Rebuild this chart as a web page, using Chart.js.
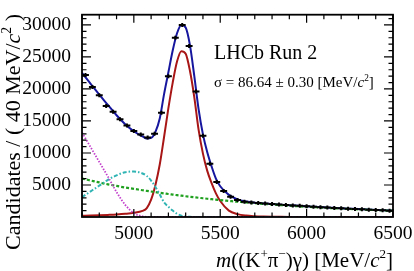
<!DOCTYPE html>
<html>
<head>
<meta charset="utf-8">
<script src="https://cdn.jsdelivr.net/npm/chart.js@4.4.1/dist/chart.umd.min.js"></script>
<style>
  html, body { margin: 0; padding: 0; background: #ffffff; }
  #chart { display: block; }
</style>
</head>
<body>
<canvas id="chart" width="414" height="271"></canvas>
<script>
"use strict";

// ** Data

// bin centres, 40 MeV bins
const binCenters = [4720, 4760, 4800, 4840, 4880, 4920, 4960, 5000, 5040, 5080,
  5120, 5160, 5200, 5240, 5280, 5320, 5360, 5400, 5440, 5480,
  5520, 5560, 5600, 5640, 5680, 5720, 5760, 5800, 5840, 5880,
  5920, 5960, 6000, 6040, 6080, 6120, 6160, 6200, 6240, 6280,
  6320, 6360, 6400, 6440, 6480];
const candidates = [22200, 20300, 19000, 17350, 16450, 15250, 14300, 13450, 12900, 12400,
  13000, 16300, 22000, 28000, 30000, 26700, 19600, 12700, 8300, 5450,
  4050, 3150, 2650, 2400, 2280, 2190, 2100, 2020, 1950, 1870,
  1810, 1740, 1660, 1600, 1540, 1470, 1420, 1360, 1300, 1250,
  1200, 1150, 1090, 1040, 990];

// sample positions for the fit curves
const curveX = [4700, 4750, 4800, 4850, 4900, 4950, 5000, 5050,
  5075, 5100, 5125, 5150, 5175, 5200, 5225, 5250, 5275, 5300, 5325, 5350,
  5375, 5400, 5425, 5450, 5475, 5500,
  5550, 5600, 5650, 5700, 5750, 5800, 5850, 5900, 5950, 6000,
  6050, 6100, 6150, 6200, 6250, 6300, 6350, 6400, 6450, 6500];
const totalFit = [22500, 20800, 19100, 17500, 15900, 14500, 13400, 12600,
  12250, 12350, 13300, 15400, 19200, 22600, 26000, 28700, 30000, 29600, 26800, 22000,
  16800, 12900, 10100, 7900, 6000, 4800,
  3450, 2750, 2420, 2230, 2120, 2020, 1930, 1850, 1760, 1670,
  1590, 1510, 1440, 1370, 1300, 1240, 1170, 1110, 1050, 1000];
const signalFit = [200, 230, 270, 330, 400, 500, 650, 950,
  1400, 2700, 5000, 8200, 12500, 17000, 21000, 24300, 25900, 25500, 22800, 18700,
  13600, 9900, 7200, 5300, 3700, 2500,
  1000, 450, 220, 120, 70, 40, 25, 15, 10, 5,
  0, 0, 0, 0, 0, 0, 0, 0, 0, 0];
const combBkg = [6000, 5700, 5400, 5100, 4850, 4600, 4400, 4180,
  4080, 3980, 3880, 3780, 3690, 3590, 3500, 3410, 3330, 3240, 3160, 3080,
  3000, 2930, 2850, 2780, 2710, 2640,
  2510, 2380, 2270, 2160, 2050, 1950, 1860, 1770, 1680, 1600,
  1520, 1450, 1380, 1310, 1250, 1190, 1130, 1080, 1020, 975];
const peakingBkg = [3100, 4000, 4900, 5800, 6500, 7000, 7100, 6800,
  6400, 5700, 4700, 3500, 2300, 1600, 1000, 500, 200, 80, 20, 0,
  0, 0, 0, 0, 0, 0,
  0, 0, 0, 0, 0, 0, 0, 0, 0, 0,
  0, 0, 0, 0, 0, 0, 0, 0, 0, 0];
const partRecoBkg = [13200, 10900, 8600, 6300, 3900, 1900, 600, 100,
  20, 0, 0, 0, 0, 0, 0, 0, 0, 0, 0, 0,
  0, 0, 0, 0, 0, 0,
  0, 0, 0, 0, 0, 0, 0, 0, 0, 0,
  0, 0, 0, 0, 0, 0, 0, 0, 0, 0];

const xTickVals = [5000, 5500, 6000, 6500];
const yTickVals = [5000, 10000, 15000, 20000, 25000, 30000];

const SERIF = "'Liberation Serif', 'DejaVu Serif', serif";

// ** Helpers

function toPoints(xs, ys) {
  return xs.map((x, i) => ({ x: x, y: ys[i] }));
}

function curve(label, ys, color, width, dash) {
  return {
    type: "line",
    label: label,
    data: toPoints(curveX, ys),
    borderColor: color,
    borderWidth: width,
    borderDash: dash,
    pointRadius: 0,
    fill: false,
    cubicInterpolationMode: "monotone",
  };
}

// draw a list of text pieces (normal / italic / superscript) in one line
function drawPieces(ctx, pieces, size, x, y, align) {
  const fontOf = (p) => {
    const s = p.sup ? size * 0.62 : size;
    return `${p.italic ? "italic " : ""}${s}px ${SERIF}`;
  };
  let total = 0;
  pieces.forEach((p) => {
    ctx.font = fontOf(p);
    total += ctx.measureText(p.t).width;
  });
  let cx = align === "right" ? x - total : x;
  ctx.textAlign = "left";
  ctx.textBaseline = "alphabetic";
  pieces.forEach((p) => {
    ctx.font = fontOf(p);
    ctx.fillText(p.t, cx, p.sup ? y - size * 0.42 : y);
    cx += ctx.measureText(p.t).width;
  });
}

// ** Plugins

const errorBars = {
  id: "errorBars",
  afterDatasetsDraw(chart) {
    const { ctx, scales } = chart;
    const xs = scales.x;
    const ys = scales.y;
    ctx.save();
    ctx.strokeStyle = "#000000";
    ctx.lineWidth = 2;
    binCenters.forEach((c, i) => {
      const v = candidates[i];
      const px = xs.getPixelForValue(c);
      const py = ys.getPixelForValue(v);
      const x0 = xs.getPixelForValue(c - 20);
      const x1 = xs.getPixelForValue(c + 20);
      const e = Math.max(Math.abs(ys.getPixelForValue(v + Math.sqrt(v)) - py), 2);
      ctx.beginPath();
      ctx.moveTo(x0, py);
      ctx.lineTo(x1, py);
      ctx.moveTo(px, py - e);
      ctx.lineTo(px, py + e);
      ctx.stroke();
    });
    ctx.restore();
  },
};

const frameAndText = {
  id: "frameAndText",
  afterDraw(chart) {
    const { ctx, chartArea: a, scales } = chart;
    ctx.save();
    ctx.strokeStyle = "#000000";
    ctx.lineWidth = 1.8;
    ctx.strokeRect(a.left, a.top, a.right - a.left, a.bottom - a.top);

    // ticks on all four sides, pointing inwards
    ctx.lineWidth = 1.2;
    ctx.beginPath();
    for (let v = 4700; v <= 6500; v += 100) {
      const px = scales.x.getPixelForValue(v);
      const len = v % 500 === 0 ? 8 : 4.5;
      ctx.moveTo(px, a.bottom);
      ctx.lineTo(px, a.bottom - len);
      ctx.moveTo(px, a.top);
      ctx.lineTo(px, a.top + len);
    }
    for (let v = 1000; v <= 31000; v += 1000) {
      const py = scales.y.getPixelForValue(v);
      const len = v % 5000 === 0 ? 9 : 4.5;
      ctx.moveTo(a.left, py);
      ctx.lineTo(a.left + len, py);
      ctx.moveTo(a.right, py);
      ctx.lineTo(a.right - len, py);
    }
    ctx.stroke();

    ctx.fillStyle = "#000000";
    // x title
    drawPieces(ctx, [
      { t: "m", italic: true },
      { t: "((K" },
      { t: "+", sup: true },
      { t: "\u03c0" },
      { t: "\u2212", sup: true },
      { t: ")\u03b3) [MeV/" },
      { t: "c", italic: true },
      { t: "2", sup: true },
      { t: "]" },
    ], 21, a.right, 267, "right");

    // y title, rotated, aligned to the top of the axis
    ctx.save();
    ctx.translate(20, 14);
    ctx.rotate(-Math.PI / 2);
    drawPieces(ctx, [
      { t: "Candidates / ( 40 MeV/" },
      { t: "c", italic: true },
      { t: "2", sup: true },
      { t: " )" },
    ], 22, 0, 0, "right");
    ctx.restore();

    // labels inside the frame
    drawPieces(ctx, [{ t: "LHCb Run 2" }], 20, 214, 59, "left");
    drawPieces(ctx, [
      { t: "\u03c3 = 86.64 \u00b1 0.30 [MeV/" },
      { t: "c", italic: true },
      { t: "2", sup: true },
      { t: "]" },
    ], 15, 214, 87, "left");
    ctx.restore();
  },
};

// ** Chart

const config = {
  type: "line",
  data: {
    datasets: [
      curve("part. reco.", partRecoBkg, "#c23fcc", 1.8, [1.5, 1.5]),
      curve("peaking bkg", peakingBkg, "#2fb3b3", 2, [4, 2, 1.5, 2]),
      curve("combinatorial", combBkg, "#1fa01f", 2.2, [3, 2]),
      curve("signal", signalFit, "#a81616", 2, []),
      curve("total", totalFit, "#16169e", 2, []),
    ],
  },
  options: {
    responsive: false,
    animation: false,
    devicePixelRatio: 1,
    layout: { padding: { top: 14, right: 21, left: 0, bottom: 0 } },
    plugins: {
      legend: { display: false },
      tooltip: { enabled: false },
    },
    scales: {
      x: {
        type: "linear",
        min: 4700,
        max: 6500,
        grid: { display: false },
        border: { display: false },
        afterBuildTicks: (axis) => {
          axis.ticks = xTickVals.map((v) => ({ value: v }));
        },
        afterFit: (axis) => {
          axis.height = 54;
        },
        ticks: {
          color: "#000000",
          font: { family: SERIF, size: 19.5 },
          padding: -3,
          maxRotation: 0,
          callback: (v) => String(v),
        },
      },
      y: {
        type: "linear",
        min: 0,
        max: 31600,
        grid: { display: false },
        border: { display: false },
        afterBuildTicks: (axis) => {
          axis.ticks = yTickVals.map((v) => ({ value: v }));
        },
        afterFit: (axis) => {
          axis.width = 82;
        },
        ticks: {
          color: "#000000",
          font: { family: SERIF, size: 19.5 },
          padding: 3,
          callback: (v) => String(v),
        },
      },
    },
  },
  plugins: [errorBars, frameAndText],
};

const ctx = document.getElementById("chart").getContext("2d");
const chart = new Chart(ctx, config);
</script>
</body>
</html>
